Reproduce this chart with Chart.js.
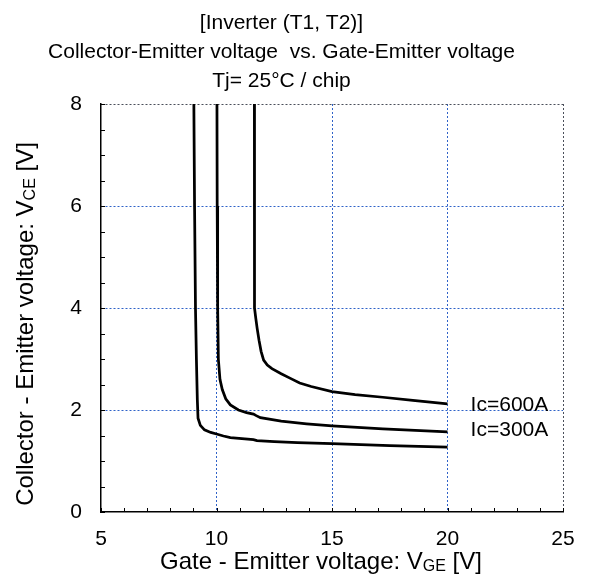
<!DOCTYPE html>
<html>
<head>
<meta charset="utf-8">
<script src="https://cdn.jsdelivr.net/npm/chart.js@4.4.1/dist/chart.umd.min.js"></script>
<style>
  html, body { margin: 0; padding: 0; background: #fff; }
  #wrap { width: 598px; height: 582px; }
</style>
</head>
<body>
<div id="wrap"><canvas id="mainChart" width="598" height="582"></canvas></div>
<script>
// グラフから読み取った値
const titleLines = ['[Inverter (T1, T2)]', 'Collector-Emitter voltage  vs. Gate-Emitter voltage', 'Tj= 25°C / chip'];
const xMin = 5, xMax = 25, xStep = 5;
const yMin = 0, yMax = 8, yStep = 2;

// 一番下の曲線（ラベルなし）
const vgeLow = [9.02, 9.05, 9.09, 9.13, 9.17, 9.2, 9.3, 9.48, 9.75, 10.0, 10.3, 10.6, 11.1, 11.6, 11.75, 12.5, 13.5, 15, 17.5, 20];
const vceLow = [8, 6, 4, 3, 2.2, 1.84, 1.7, 1.61, 1.56, 1.53, 1.49, 1.46, 1.44, 1.42, 1.40, 1.38, 1.36, 1.34, 1.30, 1.27];

// Ic=300A
const vge300 = [10.02, 10.03, 10.05, 10.08, 10.15, 10.25, 10.4, 10.6, 10.95, 11.3, 11.6, 11.72, 11.9, 12.8, 13.9, 15, 17.2, 20];
const vce300 = [8, 6, 4, 3, 2.6, 2.4, 2.22, 2.1, 2.0, 1.95, 1.92, 1.89, 1.85, 1.78, 1.73, 1.69, 1.63, 1.57];

// Ic=600A
const vge600 = [11.64, 11.64, 11.65, 11.7, 11.76, 11.84, 11.93, 12.04, 12.2, 12.4, 12.8, 13.2, 13.6, 14.1, 15, 16, 17.2, 18.5, 20];
const vce600 = [8, 6, 4, 3.8, 3.6, 3.37, 3.15, 2.98, 2.88, 2.81, 2.71, 2.62, 2.53, 2.46, 2.36, 2.3, 2.25, 2.19, 2.12];

// 曲線の注記
const noteTexts = ['Ic=600A', 'Ic=300A'];
const noteVge = [21.0, 21.0];
const noteVce = [2.1, 1.61];

const fontFamily = "'Liberation Sans', Arial, sans-serif";

function toPoints(xs, ys) {
    return xs.map((x, i) => ({x: x, y: ys[i]}));
}

function lineSet(xs, ys) {
    return {
        data: toPoints(xs, ys),
        showLine: true,
        borderColor: '#000',
        borderWidth: 2.75,
        pointRadius: 0,
        tension: 0,
        fill: false,
    };
}

// 下付き文字つきのテキストを中央揃えで描く
function drawSubText(ctx, parts, cx, cy) {
    const mainFont = '24px ' + fontFamily;
    const subFont = '16px ' + fontFamily;
    let total = 0;
    parts.forEach((p, i) => {
        ctx.font = (i % 2 === 1) ? subFont : mainFont;
        total += ctx.measureText(p).width;
    });
    let xx = cx - total / 2;
    ctx.textAlign = 'left';
    ctx.textBaseline = 'middle';
    parts.forEach((p, i) => {
        const sub = (i % 2 === 1);
        ctx.font = sub ? subFont : mainFont;
        ctx.fillText(p, xx, sub ? cy + 5 : cy);
        xx += ctx.measureText(p).width;
    });
}

const extraPlugin = {
    id: 'extra',
    afterDatasetsDraw(chart) {
        const {ctx, chartArea: a, scales: {x, y}} = chart;
        ctx.save();

        // 内側向きの目盛
        ctx.strokeStyle = '#000';
        ctx.lineWidth = 1;
        ctx.beginPath();
        for (let v = xMin; v <= xMax; v += 1) {
            const px = Math.round(x.getPixelForValue(v)) + 0.5;
            ctx.moveTo(px, a.bottom);
            ctx.lineTo(px, a.bottom - 4);
        }
        for (let v = yMin; v <= yMax; v += 0.5) {
            const py = Math.round(y.getPixelForValue(v)) + 0.5;
            ctx.moveTo(a.left, py);
            ctx.lineTo(a.left + 4, py);
        }
        ctx.stroke();

        // 注記
        ctx.fillStyle = '#000';
        ctx.font = '21px ' + fontFamily;
        ctx.textAlign = 'left';
        ctx.textBaseline = 'middle';
        noteTexts.forEach((t, i) => {
            ctx.fillText(t, x.getPixelForValue(noteVge[i]), y.getPixelForValue(noteVce[i]));
        });

        // 軸タイトル
        drawSubText(ctx, ['Gate - Emitter voltage: V', 'GE', ' [V]'], 321, 562);
        ctx.translate(26, 324);
        ctx.rotate(-Math.PI / 2);
        drawSubText(ctx, ['Collector - Emitter voltage: V', 'CE', ' [V]'], 0, 0);

        ctx.restore();
    }
};

function gridColor(edge) {
    return function(c) {
        if (c.tick.value === edge[0]) return 'rgba(0,0,0,0)';
        if (c.tick.value === edge[1]) return '#4a4f5a';
        return '#2f62c8';
    };
}

const chrt = document.getElementById('mainChart').getContext('2d');
const mainChart = new Chart(chrt, {
    type: 'scatter',
    data: {
        datasets: [
            lineSet(vgeLow, vceLow),
            lineSet(vge300, vce300),
            lineSet(vge600, vce600),
        ],
    },
    options: {
        responsive: false,
        animation: false,
        layout: {
            padding: {left: 0, top: 0, right: 35, bottom: 0}
        },
        plugins: {
            legend: {display: false},
            tooltip: {enabled: false},
            title: {
                display: true,
                text: titleLines,
                color: '#000',
                font: {family: fontFamily, size: 21, weight: 'normal', lineHeight: 29 / 21},
                padding: {top: 9, bottom: 8},
            },
        },
        scales: {
            x: {
                type: 'linear',
                min: xMin,
                max: xMax,
                afterFit: function(scale) { scale.height = 70; },
                ticks: {
                    stepSize: xStep,
                    color: '#000',
                    padding: 15,
                    font: {family: fontFamily, size: 21},
                },
                grid: {
                    color: gridColor([xMin, xMax]),
                    lineWidth: 1,
                    drawTicks: false,
                },
                border: {
                    display: true,
                    color: '#000',
                    width: 1.5,
                    dash: [2, 2],
                },
            },
            y: {
                type: 'linear',
                min: yMin,
                max: yMax,
                afterFit: function(scale) { scale.width = 101; },
                ticks: {
                    stepSize: yStep,
                    color: '#000',
                    padding: 19,
                    font: {family: fontFamily, size: 21},
                },
                grid: {
                    color: gridColor([yMin, yMax]),
                    lineWidth: 1,
                    drawTicks: false,
                },
                border: {
                    display: true,
                    color: '#000',
                    width: 1.5,
                    dash: [2, 2],
                },
            },
        },
    },
    plugins: [extraPlugin],
});
</script>
</body>
</html>
